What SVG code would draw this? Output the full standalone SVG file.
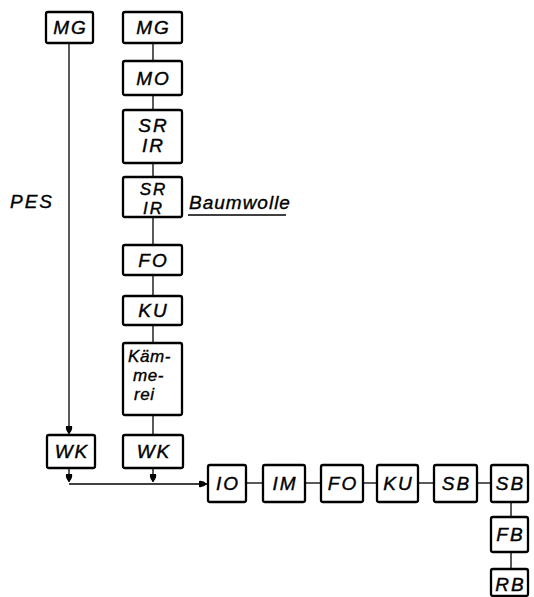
<svg xmlns="http://www.w3.org/2000/svg" width="534" height="597" viewBox="0 0 534 597">
<defs>
<style>
.b{fill:#fff;stroke:#000;stroke-width:2.3}
.t{font-family:"Liberation Sans",Arial,sans-serif;font-style:italic;font-size:19px;fill:#000;stroke:#000;stroke-width:0.4;text-anchor:middle;letter-spacing:2px}
.s{font-family:"Liberation Sans",Arial,sans-serif;font-style:italic;font-size:17px;fill:#000;stroke:#000;stroke-width:0.35;letter-spacing:0.6px}
.l{font-family:"Liberation Sans",Arial,sans-serif;font-style:italic;font-size:19px;fill:#000;stroke:#000;stroke-width:0.35;letter-spacing:2px}
.c{fill:none;stroke:#000;stroke-width:1.3}
</style>
<marker id="a" viewBox="0 0 8 8" refX="8" refY="4" markerWidth="8" markerHeight="8" markerUnits="userSpaceOnUse" orient="auto">
<path d="M0,1 Q4,0 8,4 Q4,8 0,7 Z" fill="#000"/>
</marker>
</defs>
<g id="connectors">
<line class="c" x1="69" y1="43" x2="69" y2="434" marker-end="url(#a)"/>
<line class="c" x1="69" y1="468" x2="69" y2="482" marker-end="url(#a)"/>
<line class="c" x1="153" y1="468" x2="153" y2="482" marker-end="url(#a)"/>
<line class="c" x1="69" y1="484" x2="207" y2="484" marker-end="url(#a)"/>
<line class="c" x1="153" y1="43" x2="153" y2="61"/>
<line class="c" x1="153" y1="95" x2="153" y2="110"/>
<line class="c" x1="153" y1="163" x2="153" y2="177"/>
<line class="c" x1="153" y1="217" x2="153" y2="245"/>
<line class="c" x1="153" y1="275" x2="153" y2="296"/>
<line class="c" x1="153" y1="325" x2="153" y2="343"/>
<line class="c" x1="153" y1="415" x2="153" y2="435"/>
<line class="c" x1="246" y1="483" x2="263" y2="483"/>
<line class="c" x1="305" y1="483" x2="321" y2="483"/>
<line class="c" x1="363" y1="483" x2="377" y2="483"/>
<line class="c" x1="418" y1="483" x2="434" y2="483"/>
<line class="c" x1="477" y1="483" x2="491" y2="483"/>
<line class="c" x1="511" y1="502" x2="511" y2="517"/>
<line class="c" x1="511" y1="552" x2="511" y2="569"/>
</g>
<g id="mg-left"><rect class="b" x="46" y="12" width="47" height="31" rx="2"/><text class="t" x="70.5" y="34">MG</text></g>
<g id="mg-right"><rect class="b" x="123" y="12" width="59" height="31" rx="2"/><text class="t" x="153.5" y="34">MG</text></g>
<g id="mo"><rect class="b" x="123" y="61" width="59" height="34" rx="2"/><text class="t" x="153.5" y="85">MO</text></g>
<g id="srir1"><rect class="b" x="123" y="110" width="59" height="53" rx="2"/><text class="t" x="153.5" y="132">SR</text><text class="t" x="153.5" y="152">IR</text></g>
<g id="srir2"><rect class="b" x="123" y="177" width="59" height="40" rx="2"/><text class="t" x="153.5" y="195" style="font-size:17px">SR</text><text class="t" x="153.5" y="214" style="font-size:17px">IR</text></g>
<g id="fo1"><rect class="b" x="123" y="245" width="59" height="30" rx="2"/><text class="t" x="153.5" y="267">FO</text></g>
<g id="ku1"><rect class="b" x="123" y="296" width="59" height="29" rx="2"/><text class="t" x="153.5" y="317">KU</text></g>
<g id="kaemmerei"><rect class="b" x="123" y="343" width="59" height="72" rx="2"/><text class="s" x="128" y="362">Käm-</text><text class="s" x="133" y="381">me-</text><text class="s" x="134" y="400">rei</text></g>
<g id="wk-left"><rect class="b" x="47" y="435" width="48" height="33" rx="2"/><text class="t" x="72" y="458">WK</text></g>
<g id="wk-right"><rect class="b" x="123" y="435" width="60" height="33" rx="2"/><text class="t" x="154" y="458">WK</text></g>
<g id="io"><rect class="b" x="208" y="465" width="38" height="37" rx="2"/><text class="t" x="228" y="490">IO</text></g>
<g id="im"><rect class="b" x="263" y="465" width="42" height="37" rx="2"/><text class="t" x="285" y="490">IM</text></g>
<g id="fo2"><rect class="b" x="321" y="465" width="42" height="37" rx="2"/><text class="t" x="343" y="490">FO</text></g>
<g id="ku2"><rect class="b" x="377" y="465" width="41" height="37" rx="2"/><text class="t" x="398.5" y="490">KU</text></g>
<g id="sb1"><rect class="b" x="434" y="465" width="43" height="37" rx="2"/><text class="t" x="456.5" y="490">SB</text></g>
<g id="sb2"><rect class="b" x="491" y="465" width="37" height="37" rx="2"/><text class="t" x="510.5" y="490">SB</text></g>
<g id="fb"><rect class="b" x="491" y="517" width="37" height="35" rx="2"/><text class="t" x="510.5" y="541">FB</text></g>
<g id="rb"><rect class="b" x="491" y="569" width="37" height="27" rx="2"/><text class="t" x="510.5" y="591">RB</text></g>
<g id="labels">
<text class="l" x="10" y="208">PES</text>
<text class="l" x="189" y="209" style="letter-spacing:1px">Baumwolle</text>
<line x1="188" y1="215" x2="286" y2="215" stroke="#000" stroke-width="1.3"/>
</g>
</svg>
